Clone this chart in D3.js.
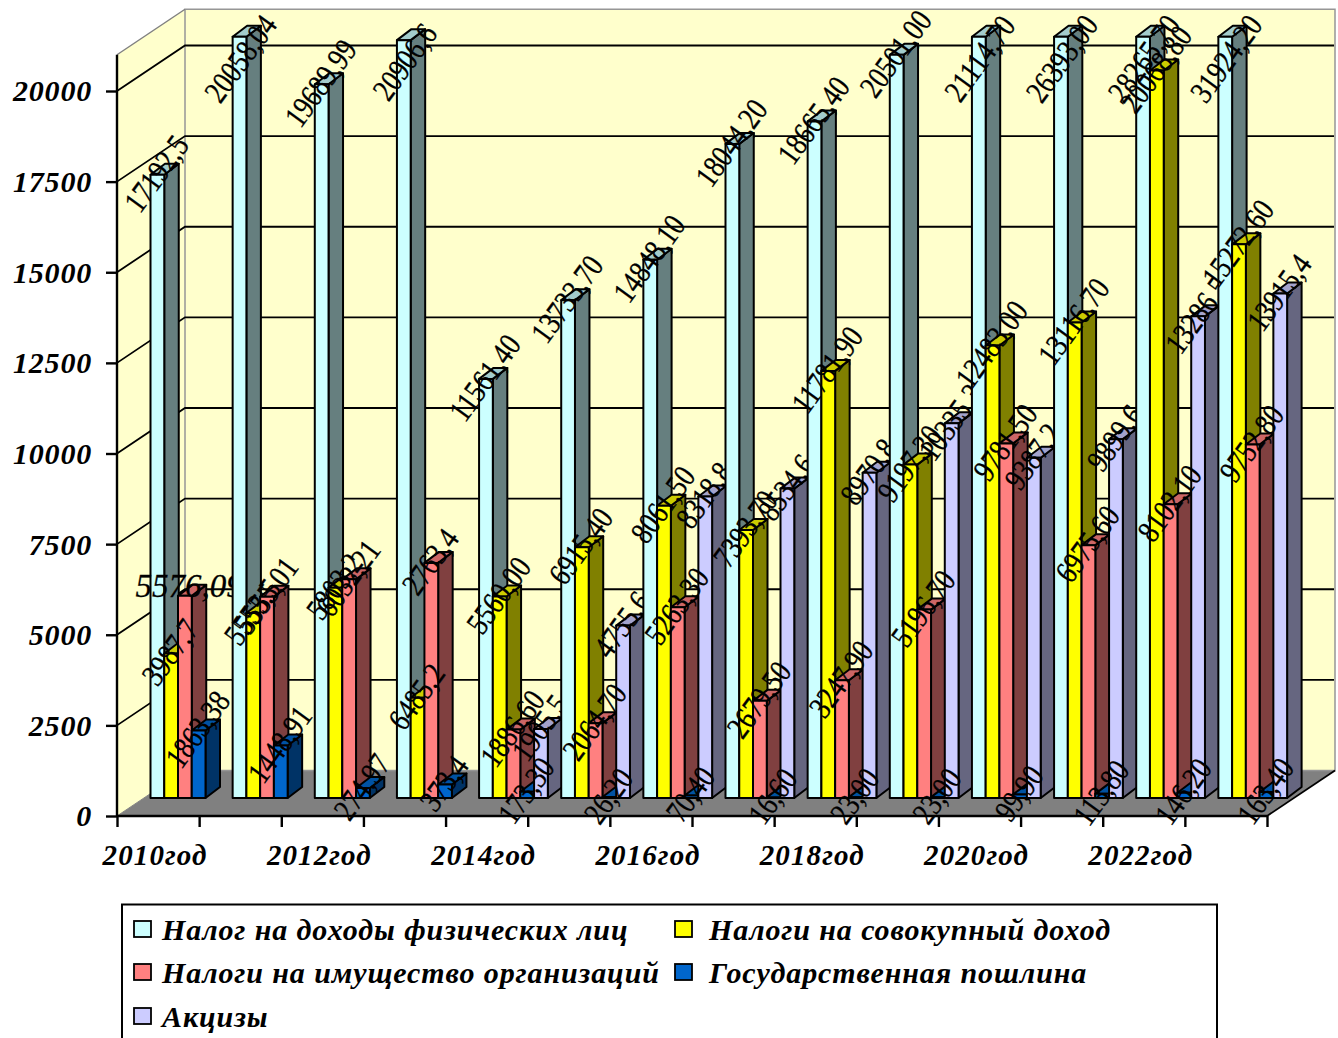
<!DOCTYPE html>
<html><head><meta charset="utf-8">
<script src="https://cdnjs.cloudflare.com/ajax/libs/d3/7.8.5/d3.min.js"></script>
<style>html,body{margin:0;padding:0;background:#fff;overflow:hidden}svg{display:block}
text{font-family:"Liberation Serif",serif;fill:#000}
.ax{font-weight:bold;font-style:italic}
</style></head><body><svg id="c" width="1338" height="1038"></svg>
<script>
const years=["2010год","2011год","2012год","2013год","2014год","2015год","2016год","2017год","2018год","2019год","2020год","2021год","2022год","2023год"];
const yTicks=[0,2500,5000,7500,10000,12500,15000,17500,20000];
const seriesNames=["Налог на доходы физических лиц","Налоги на совокупный доход","Налоги на имущество организаций","Государственная пошлина","Акцизы"];
const ndfl=[17192.5,21058.04,19689.99,20906.6,11561.4,13733.7,14848.1,18044.2,18665.4,20501,21114.7,26393,28265.7,31924.2];
const sovok=[3987.7,5103,5803,2763.4,5560,6915.4,8061.5,7393.7,11781.9,9197.3,12483,13116.7,20068.8,15272.6];
const imush=[5576.09,5555.01,6032.21,6485.2,1886.6,2064.7,5263.3,2679.5,3247.9,5196.7,9781.5,6975.6,8102.1,9752.8];
const poshl=[1863.38,1448.91,274.97,373.4,173.3,26.2,70.4,16.6,23,23,99.9,113.8,146.2,163.4];
const akciz=[null,null,null,null,1905.5,4755.6,8318.8,8534.6,8970.8,10335.3,9387.2,9899.6,13286.5,13915.4];
const ndflL=["17192,5","20058,04","19689,99","20906,6","11561,40","13733,70","14848,10","18044,20","18665,40","20501,00","21114,70","26393,00","28265,70","31924,20"];
const sovokL=["3987,7","5553,5","5803,2","6485,2","5560,00","6915,40","8061,50","7393,70","11781,90","9197,30","12483,00","13116,70","20068,80","15272,60"];
const imushL=["5576,09","5555,01","6032,21","2763,4","1886,60","2064,70","5263,30","2679,50","3247,90","5196,70","9781,50","6975,60","8102,10","9752,80"];
const poshlL=["1863,38","1448,91","274,97","373,4","173,30","26,20","70,40","16,60","23,00","23,00","99,90","113,80","146,20","163,40"];
const akcizL=[null,null,null,null,"1905,5","4755,6","8318,8","8534,6","8970,8","10335,3","9387,2","9899,6","13286,5","13915,4"];
const seriesVals=[ndfl,sovok,imush,poshl,akciz], seriesLabels=[ndflL,sovokL,imushL,poshlL,akcizL];
const front=["#CCFFFF","#FFFF00","#FF8080","#0066CC","#CCCCFF"];
const side=["#667F7F","#808000","#804040","#003366","#666680"];
const top_=["#A3CCCC","#CCCC00","#CC6666","#0052A3","#A3A3CC"];

const svg=d3.select("#c");
const y=d3.scaleLinear().domain([0,20000]).range([816,91]);
const idx=d3.scaleLinear().domain([0,14]).range([117,1267]);
const x=d3.scaleBand().domain(years).range([117,1267]);
const DX=68,DY=-45.5, maxV=21000;
const BX=33.5,BY=-18,BW=13.75,SDX=14.5,SDY=-11;
const pts=a=>a.map(p=>p.join(",")).join(" ");
// walls
svg.append("polygon").attr("points",pts([[117,y(0)],[117+DX,y(0)+DY],[1267+DX,y(0)+DY],[1267,y(0)]])).attr("fill","#808080");
svg.append("polygon").attr("points",pts([[117,y(maxV)],[117+DX,y(maxV)+DY],[117+DX,y(0)+DY],[117,y(0)]])).attr("fill","#FFFFCC");
svg.append("rect").attr("x",117+DX).attr("y",y(maxV)+DY).attr("width",1150).attr("height",y(0)-y(maxV)).attr("fill","#FFFFCC").attr("stroke","#969696").attr("stroke-width",1.5);
svg.append("polyline").attr("points",pts([[117,y(maxV)],[117+DX,y(maxV)+DY]])).attr("stroke","#808080").attr("stroke-width",1.5).attr("fill","none");
yTicks.slice(1).forEach(t=>{
  svg.append("polyline").attr("fill","none").attr("stroke","#000").attr("stroke-width",1.8)
   .attr("points",pts([[117,y(t)],[117+DX,y(t)+DY],[1267+DX-1,y(t)+DY]]));
});
svg.append("line").attr("x1",1267).attr("y1",y(0)).attr("x2",1267+DX).attr("y2",y(0)+DY).attr("stroke","#000").attr("stroke-width",1.8);
svg.append("line").attr("x1",117).attr("y1",y(0)).attr("x2",117+DX).attr("y2",y(0)+DY).attr("stroke","#808080").attr("stroke-width",1);
// axes
const gy=svg.append("g").attr("transform","translate(117,0)").call(d3.axisLeft(y).tickValues(yTicks).tickSize(11).tickPadding(14).tickFormat(d3.format("d")));
gy.selectAll("text").attr("class","ax").style("font-size","30px").style("letter-spacing","0.8px").style("font-family","'Liberation Serif',serif").attr("dy","0.33em");
gy.selectAll("line,path").attr("stroke","#000").attr("stroke-width",2.4);
gy.select("path").attr("d",`M0,${y(maxV)}V${y(0)}`);
const gx=svg.append("g").attr("transform",`translate(0,${y(0)})`).call(d3.axisBottom(idx).tickValues(d3.range(15)).tickSize(11).tickFormat(""));
gx.selectAll("line,path").attr("stroke","#000").attr("stroke-width",2.4);
gx.select("path").attr("d",`M117,0H1267`);
svg.selectAll(".xl").data(years.filter((d,i)=>i%2==0)).enter().append("text").attr("class","ax")
  .attr("x",d=>x(d)+x.bandwidth()/2-3).attr("y",865).attr("text-anchor","middle").style("font-size","29px").style("letter-spacing","1.1px").text(d=>d);
// bars, category by category so later categories cover earlier labels
years.forEach((yr,i)=>{
  const g=svg.append("g");
  seriesVals.forEach((vals,j)=>{
    const v=vals[i]; if(v==null)return;
    const xl=x(yr)+BX+j*BW, xr=xl+BW, b=y(0)+BY, t=y(Math.min(v,maxV))+BY;
    const st={stroke:"#000","stroke-width":2,"stroke-linejoin":"round"};
    const add=(p,f)=>{const e=g.append("polygon").attr("points",pts(p)).attr("fill",f);Object.entries(st).forEach(([k,w])=>e.attr(k,w));};
    add([[xr,b],[xr+SDX,b+SDY],[xr+SDX,t+SDY],[xr,t]],side[j]);
    add([[xl,t],[xr,t],[xr+SDX,t+SDY],[xl+SDX,t+SDY]],top_[j]);
    add([[xl,t],[xr,t],[xr,b],[xl,b]],front[j]);
  });
  seriesVals.forEach((vals,j)=>{
    const v=vals[i], lab=seriesLabels[j][i]; if(v==null)return;
    const xl=x(yr)+BX+j*BW, t=y(Math.min(v,maxV))+BY;
    const horiz=(i==0&&j==2), clipped=v>=20900;
    const cx=horiz?xl+11:xl+(clipped?8:6), cy=horiz?t-10:(clipped?t+22:t-1);
    g.append("text").attr("transform",`translate(${cx},${cy}) rotate(${horiz?0:-54}) scale(${horiz?1:0.82},1)`)
      .attr("text-anchor","middle").attr("dy","0.33em").attr("stroke","#000").attr("stroke-width",0.3)
      .style("font-size",horiz?"33px":"32px").style("font-style",horiz?"italic":"normal").text(lab);
  });
});
// legend
const lg=svg.append("g");
lg.append("rect").attr("x",122).attr("y",904.5).attr("width",1095).attr("height",160).attr("fill","#fff").attr("stroke","#000").attr("stroke-width",2);
const legendSwatch=[[134,940],[675,940],[134,983],[675,983],[134,1027]];
const legendTextX=[162,709,162,709,162];
seriesNames.forEach((n,k)=>{
  const [lx,ly]=legendSwatch[k];
  lg.append("rect").attr("x",lx).attr("y",ly-19).attr("width",17).attr("height",16).attr("fill",front[k]).attr("stroke","#000").attr("stroke-width",1.8);
  lg.append("text").attr("class","ax").attr("x",legendTextX[k]).attr("y",ly).style("font-size","30px").style("letter-spacing","0.9px").text(n);
});
</script></body></html>
